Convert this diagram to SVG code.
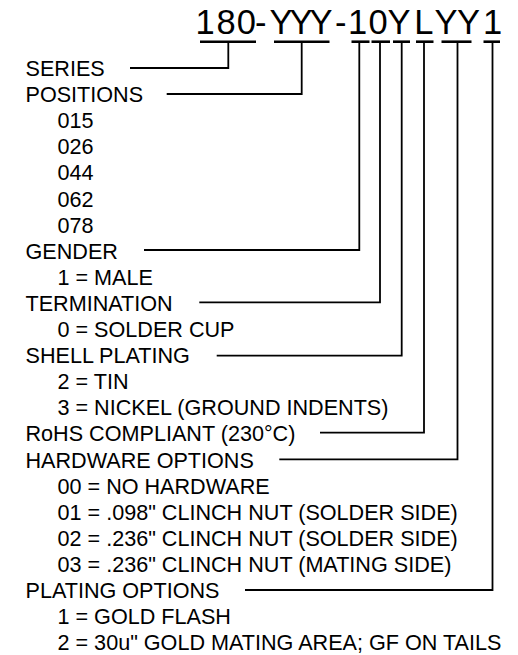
<svg xmlns="http://www.w3.org/2000/svg" width="518" height="655" viewBox="0 0 518 655">
<style>
text{font-family:"Liberation Sans",Arial,sans-serif;fill:#000}
.t{font-size:21.6px}
.title{font-size:34.5px}
.ul{stroke:#000;stroke-width:2.6;fill:none}
.c{stroke:#000;stroke-width:1.8;fill:none}
</style>
<rect width="518" height="655" fill="#fff"/>
<g id="title">
<text class="title" y="34" x="195.6 216.5 236.8 255.1 269.6 289.6 309.6 335.1 348 368.5 387.6 414.2 434.6 457 483">180-YYY-10YLYY1</text>
<line class="ul" x1="200" y1="41.7" x2="256" y2="41.7"/>
<line class="ul" x1="274" y1="41.7" x2="329.5" y2="41.7"/>
<line class="ul" x1="351.5" y1="41.7" x2="369.5" y2="41.7"/>
<line class="ul" x1="371.5" y1="41.7" x2="390" y2="41.7"/>
<line class="ul" x1="393" y1="41.7" x2="410" y2="41.7"/>
<line class="ul" x1="416" y1="41.7" x2="433.5" y2="41.7"/>
<line class="ul" x1="441.5" y1="41.7" x2="471.5" y2="41.7"/>
<line class="ul" x1="483.5" y1="41.7" x2="500" y2="41.7"/>
</g>
<g id="labels" class="t">
<g id="series"><text x="25.5" y="76">SERIES</text></g>
<g id="positions"><text x="25.5" y="102.1">POSITIONS</text>
<text x="57.5" y="128.2">015</text>
<text x="57.5" y="154.3">026</text>
<text x="57.5" y="180.4">044</text>
<text x="57.5" y="206.5">062</text>
<text x="57.5" y="232.6">078</text></g>
<g id="gender"><text x="25.5" y="258.7">GENDER</text>
<text x="57.5" y="284.8">1 = MALE</text></g>
<g id="termination"><text x="25.5" y="310.9">TERMINATION</text>
<text x="57.5" y="337">0 = SOLDER CUP</text></g>
<g id="shell"><text x="25.5" y="363.1">SHELL PLATING</text>
<text x="57.5" y="389.2">2 = TIN</text>
<text x="57.5" y="415.3">3 = NICKEL (GROUND INDENTS)</text></g>
<g id="rohs"><text x="25.5" y="441.4">RoHS COMPLIANT (230°C)</text></g>
<g id="hardware"><text x="25.5" y="467.5">HARDWARE OPTIONS</text>
<text x="57.5" y="493.6">00 = NO HARDWARE</text>
<text x="57.5" y="519.7">01 = .098" CLINCH NUT (SOLDER SIDE)</text>
<text x="57.5" y="545.8">02 = .236" CLINCH NUT (SOLDER SIDE)</text>
<text x="57.5" y="571.9">03 = .236" CLINCH NUT (MATING SIDE)</text></g>
<g id="plating"><text x="25.5" y="598">PLATING OPTIONS</text>
<text x="57.5" y="624.1">1 = GOLD FLASH</text>
<text x="57.5" y="650.2">2 = 30u" GOLD MATING AREA; GF ON TAILS</text></g>
</g>
<g id="connectors" class="c">
<polyline points="228.3,42 228.3,68 130,68"/>
<polyline points="301.7,42 301.7,94 166.7,94"/>
<polyline points="359.3,42 359.3,250 144,250"/>
<polyline points="380,42 380,302.3 199.3,302.3"/>
<polyline points="401.7,42 401.7,355.7 216.7,355.7"/>
<polyline points="424,42 424,432.7 320,432.7"/>
<polyline points="457.5,42 457.5,459.3 279.3,459.3"/>
<polyline points="492.5,42 492.5,590 245,590"/>
</g>
</svg>
